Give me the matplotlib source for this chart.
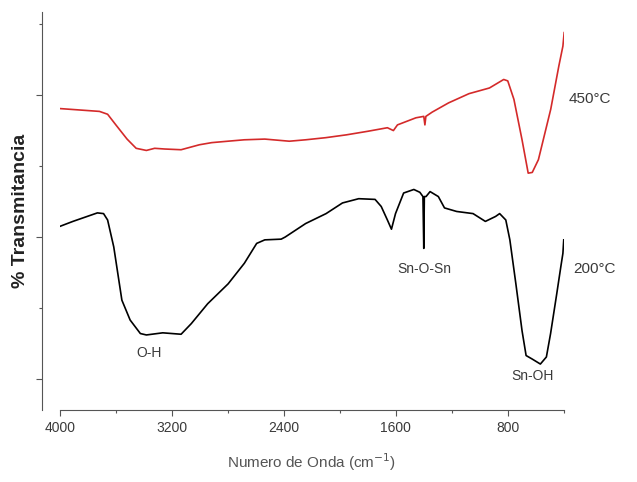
import matplotlib
matplotlib.use("Agg")
import matplotlib.pyplot as plt
from matplotlib.ticker import MultipleLocator

plt.rcParams["font.family"] = ["Liberation Sans", "DejaVu Sans"]

# FTIR spectra (wavenumber in cm-1, transmittance in arbitrary units)
wn_450 = [4000, 3717, 3659, 3600, 3520, 3455, 3382, 3323, 3250, 3134, 3003, 2915,
          2800, 2682, 2536, 2361, 2244, 2100, 1952, 1800, 1660, 1617, 1588, 1456,
          1400, 1392, 1385, 1340, 1223, 1077, 931, 829, 800, 756, 698, 654, 625,
          581, 493, 435, 406, 397]
tr_450 = [3.81, 3.77, 3.73, 3.58, 3.38, 3.25, 3.22, 3.25, 3.24, 3.23, 3.30, 3.33,
          3.35, 3.37, 3.38, 3.35, 3.37, 3.40, 3.44, 3.49, 3.54, 3.50, 3.58, 3.68,
          3.70, 3.58, 3.70, 3.76, 3.89, 4.02, 4.10, 4.22, 4.20, 3.94, 3.37, 2.90,
          2.91, 3.09, 3.80, 4.41, 4.69, 4.88]

wn_200 = [4000, 3907, 3732, 3688, 3659, 3615, 3557, 3498, 3425, 3382, 3265, 3134,
          3061, 2944, 2798, 2682, 2594, 2536, 2419, 2390, 2244, 2098, 1981, 1865,
          1748, 1704, 1660, 1631, 1602, 1544, 1471, 1428, 1406, 1400, 1396, 1384,
          1355, 1296, 1252, 1165, 1048, 960, 887, 858, 814, 785, 742, 698, 669,
          625, 567, 524, 494, 450, 421, 406, 400]
tr_200 = [2.15, 2.22, 2.34, 2.33, 2.24, 1.86, 1.11, 0.83, 0.64, 0.62, 0.65, 0.63,
          0.78, 1.06, 1.34, 1.63, 1.91, 1.96, 1.97, 2.00, 2.19, 2.33, 2.48, 2.54,
          2.53, 2.43, 2.24, 2.11, 2.33, 2.62, 2.67, 2.63, 2.57, 1.84, 2.57, 2.57,
          2.64, 2.57, 2.41, 2.36, 2.33, 2.22, 2.29, 2.33, 2.24, 1.96, 1.34, 0.68,
          0.33, 0.28, 0.21, 0.31, 0.64, 1.20, 1.58, 1.77, 1.96]

series_labels = ["450°C", "200°C"]
band_labels = ["O-H", "Sn-O-Sn", "Sn-OH"]
band_pos = [(3360, 0.36), (1398, 1.55), (620, 0.04)]
x_ticks = [4000, 3200, 2400, 1600, 800]

TEXT = "#3a3a3a"

fig = plt.figure(figsize=(6.37, 4.82), dpi=100)
ax = fig.add_axes([0.094, 0.149, 0.791, 0.826])

ax.plot(wn_450, tr_450, color="#d42a2a", lw=1.2)
ax.plot(wn_200, tr_200, color="black", lw=1.2)

ax.set_xlim(4000, 400)
ax.set_ylim(-0.44, 5.17)

ax.set_xticks(x_ticks)
ax.set_xticklabels([str(t) for t in x_ticks], color=TEXT, fontsize=10)
ax.xaxis.set_minor_locator(MultipleLocator(400))
ax.yaxis.set_major_locator(MultipleLocator(2))
ax.yaxis.set_minor_locator(MultipleLocator(1))
ax.set_yticklabels([])
ax.tick_params(axis="both", which="major", direction="out", length=4, width=0.8, color="#555")
ax.tick_params(axis="both", which="minor", direction="out", length=2, width=0.8, color="#555")

for s in ["top", "right"]:
    ax.spines[s].set_visible(False)
ax.spines["left"].set_position(("outward", 13))
ax.spines["left"].set_color("#555")
ax.spines["bottom"].set_color("#555")

ax.set_xlabel("Numero de Onda (cm$^{-1}$)", color="#555", fontsize=11, labelpad=12)
ax.set_ylabel("% Transmitancia", color="#222", fontsize=14, fontweight="bold", labelpad=2)

# series and band annotations
ax.text(364, 3.95, series_labels[0], color=TEXT, fontsize=11, ha="left", va="center", clip_on=False)
ax.text(335, 1.55, series_labels[1], color=TEXT, fontsize=11, ha="left", va="center", clip_on=False)
for lab, (x, y) in zip(band_labels, band_pos):
    ax.text(x, y, lab, color=TEXT, fontsize=10, ha="center", va="center")

fig.savefig("out.png", dpi=100)
